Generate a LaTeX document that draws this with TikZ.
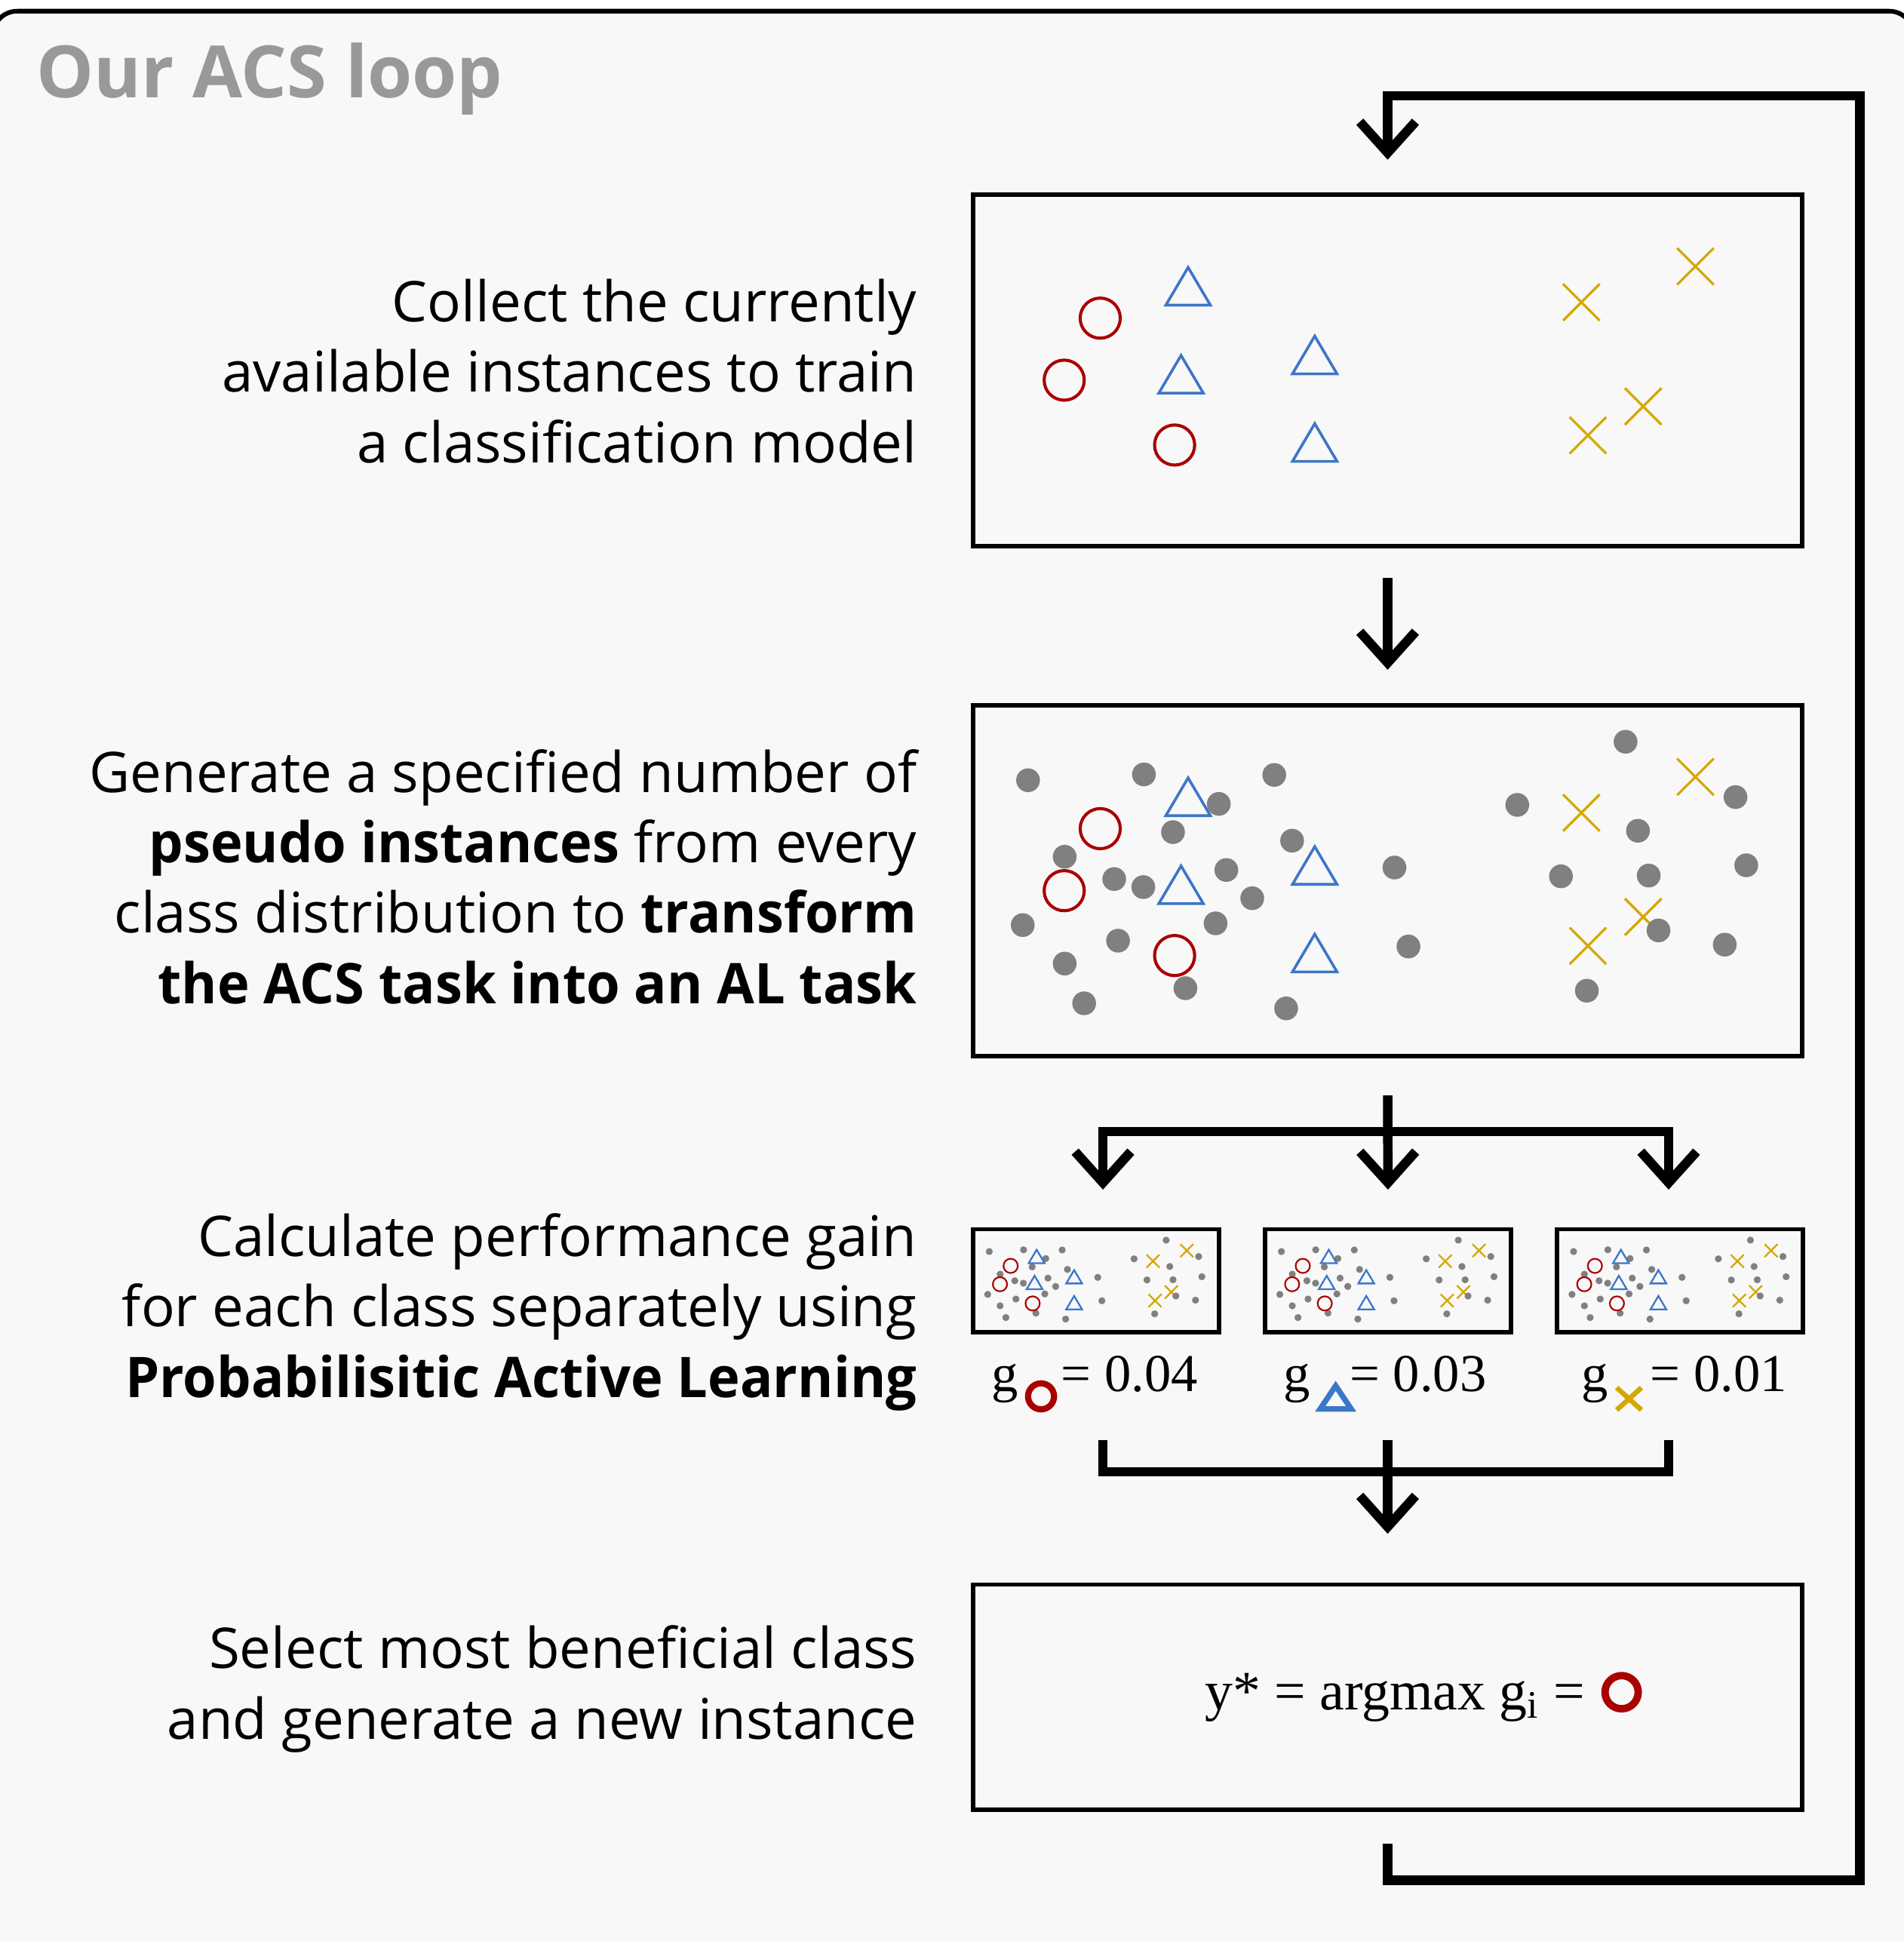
\documentclass[tikz,border=0pt]{standalone}
\usepackage{fontspec}
\newfontfamily\osans{Open Sans}[BoldFeatures={FakeStretch=0.97}]
\newfontfamily\osanstitle{Open Sans}
\newfontfamily\tser{Liberation Serif}
\usetikzlibrary{arrows.meta}
\definecolor{bgc}{HTML}{F8F8F8}
\definecolor{redc}{RGB}{170,0,0}
\definecolor{bluec}{RGB}{60,118,200}
\definecolor{goldc}{RGB}{212,168,0}
\definecolor{dotc}{HTML}{808080}
\definecolor{titlec}{HTML}{999999}

\newcommand\mkf{1}
\newcommand\mkcirc[2]{\draw[circ] (#1,#2) circle[radius=16.2*\mkf];}
\newcommand\mktri[2]{\draw[tri] (#1,#2) ++(-18*\mkf,15.25*\mkf) -- ++(18*\mkf,-30.5*\mkf) -- ++(18*\mkf,30.5*\mkf) -- cycle;}
\newcommand\mkcross[2]{\draw[crs] (#1,#2) ++(-14.8*\mkf,-14.8*\mkf) -- ++(29.6*\mkf,29.6*\mkf) (#1,#2) ++(-14.8*\mkf,14.8*\mkf) -- ++(29.6*\mkf,-29.6*\mkf);}
\newcommand\mkdot[2]{\fill[dotc] (#1,#2) circle[radius=9.6];}

\newcommand\crossesA{%
  \mkcross{491.5}{87.2}\mkcross{583.6}{58.2}\mkcross{541.4}{171.3}\mkcross{496.8}{194.7}}
\newcommand\roundA{%
  \mkcirc{102.8}{100}\mkcirc{73.7}{150.1}\mkcirc{162.9}{202.5}%
  \mktri{173.8}{74.25}\mktri{168.1}{145.35}\mktri{276.1}{129.75}\mktri{276.1}{200.45}}
\newcommand\dotsB{%
  \mkdot{44.5}{60.9}\mkdot{138.1}{56.2}\mkdot{243.4}{56.6}\mkdot{198.6}{80.0}%
  \mkdot{161.6}{102.8}\mkdot{257.8}{109.7}\mkdot{74.1}{122.7}\mkdot{114.1}{140.7}%
  \mkdot{137.6}{147.2}\mkdot{204.7}{133.4}\mkdot{225.6}{156.2}\mkdot{340.5}{131.4}%
  \mkdot{40.2}{177.9}\mkdot{196.0}{176.5}\mkdot{117.2}{190.5}\mkdot{74.1}{209.0}%
  \mkdot{351.8}{195.2}\mkdot{171.6}{228.9}\mkdot{89.8}{241.1}\mkdot{253.0}{245.2}%
  \mkdot{527.2}{29.8}\mkdot{439.7}{80.8}\mkdot{616.0}{74.5}\mkdot{537.2}{101.7}%
  \mkdot{475.0}{138.5}\mkdot{545.9}{137.9}\mkdot{624.7}{129.6}\mkdot{553.8}{182.2}%
  \mkdot{607.3}{193.7}\mkdot{495.9}{230.9}}
\newcommand\smallcluster{%
  \renewcommand\mkf{1.2}\crossesA\dotsB\roundA}

\begin{document}
\begin{tikzpicture}[x=0.02cm,y=-0.02cm,
  box/.style={draw=black, line width=0.072cm, inner sep=0pt, outer sep=0pt, minimum width=13.4cm},
  sbox/.style={draw=black, line width=0.072cm, inner sep=0pt, outer sep=0pt, minimum width=3.97cm, minimum height=1.66cm},
  circ/.style={draw=redc, line width=0.05cm},
  tri/.style={draw=bluec, line width=0.044cm, line join=miter},
  crs/.style={draw=goldc, line width=0.04cm},
  conn/.style={draw=black, line width=0.152cm, line join=miter, line cap=butt},
  tipa/.tip={Straight Barb[length=0.5cm, width=0.9cm, sharp]},
  lefttext/.style={font=\osans\fontsize{25.8pt}{32.4pt}\selectfont, align=right, anchor=base east, inner sep=0pt},
  lab/.style={font=\tser\fontsize{24.5pt}{30pt}\selectfont, anchor=base west, inner sep=0pt},
  frm/.style={font=\tser\fontsize{25.6pt}{30pt}\selectfont, anchor=base west, inner sep=0pt}]
\useasboundingbox (0,0) rectangle (1538,1568);
\fill[white] (0,0) rectangle (1538,1568);
\clip (0,0) rectangle (1538,1568);
\draw[line width=0.074cm, fill=bgc, rounded corners=0.4cm] (-6,9) rectangle (1546,1640);

% title
\node[anchor=base west, inner sep=0pt, text=titlec, font=\osanstitle\bfseries\fontsize{33.2pt}{40pt}\selectfont] (title) at (29,78.8) {Our ACS loop};

% left texts (anchored at the baseline of the last line)
\node[lefttext] (t1) at (741,373.8) {Collect the currently\\available instances to train\\a classification model};
\node[lefttext] (t2) at (741,810.7) {Generate a specified number of\\\textbf{pseudo instances} from every\\class distribution to \textbf{transform}\\\textbf{the ACS task into an AL task}};
\node[lefttext] (t3) at (741,1128.8) {Calculate performance gain\\for each class separately using\\\textbf{Probabilisitic Active Learning}};
\node[lefttext] (t4) at (741,1404.9) {Select most beneficial class\\and generate a new instance};

% boxes
\node[box, minimum height=5.68cm] (box1) at (1121,299) {};
\node[box, minimum height=5.66cm] (box2) at (1121,711.5) {};
\node[sbox] (sa) at (885.3,1034.5) {};
\node[sbox] (sb) at (1121.25,1034.5) {};
\node[sbox] (sc) at (1357,1034.5) {};
\node[box, minimum height=3.64cm] (box4) at (1121,1371) {};

% box contents
\begin{scope}[shift={(786,157)}]
  \crossesA\roundA
\end{scope}
\begin{scope}[shift={(786,569.4)}]
  \crossesA\dotsB\roundA
\end{scope}
\begin{scope}[circ/.style={draw=redc, line width=0.026cm},
  tri/.style={draw=bluec, line width=0.028cm, line join=miter},
  crs/.style={draw=goldc, line width=0.028cm}]
  \begin{scope}[shift={(786,993)}, scale=0.296]\smallcluster\end{scope}
  \begin{scope}[shift={(1022,993)}, scale=0.296]\smallcluster\end{scope}
  \begin{scope}[shift={(1258,993)}, scale=0.296]\smallcluster\end{scope}
\end{scope}

% gain labels
\node[lab] (ga) at (800.5,1124.3) {g};
\node[lab] (va) at (857,1124.3) {= 0.04};
\draw[redc, line width=0.1cm] (841,1128) circle[radius=10.5];
\node[lab] (gb) at (1036.4,1124.3) {g};
\node[lab] (vb) at (1090,1124.3) {= 0.03};
\draw[bluec, line width=0.09cm, line join=miter] (1066.5,1138.2) -- (1079,1119.5) -- (1091.5,1138.2) -- cycle;
\node[lab] (gc) at (1277.1,1124.3) {g};
\node[lab] (vc) at (1333,1124.3) {= 0.01};
\draw[goldc, line width=0.08cm] (1306,1121) -- (1326,1139) (1306,1139) -- (1326,1121);

% formula
\node[frm] (fm) at (973,1381.3) {y* = argmax g\textsubscript{i} =};
\draw[redc, line width=0.12cm] (1310,1367) circle[radius=13.4];

% connectors
\draw[conn, -{tipa}] ([yshift=-0.52cm]box1.south) -- ([yshift=0.58cm]box2.north);
\draw[conn, -{tipa}] ([yshift=-0.64cm]box2.south) -- ([yshift=0.64cm]sb.north);
\coordinate (bl) at (891,961);
\coordinate (br) at (1348,961);
\draw[conn, {tipa}-{tipa}] (bl) -- ++(0,-47) -| (br);
\coordinate (ml) at (891,1163.5);
\coordinate (mr) at (1348,1163.5);
\coordinate (mc) at (1121,1163.5);
\draw[conn] (ml) -- (891,1189) -- (1348,1189) -- (mr);
\draw[conn, -{tipa}] (mc) -- ([yshift=0.82cm]box4.north);
\coordinate (lp) at (1502.5,77.4);
\draw[conn, -{tipa}] ([yshift=-0.55cm]box4.south) -- ++(0,29.5) -| (lp) -| ([yshift=0.56cm]box1.north);
\end{tikzpicture}
\end{document}
